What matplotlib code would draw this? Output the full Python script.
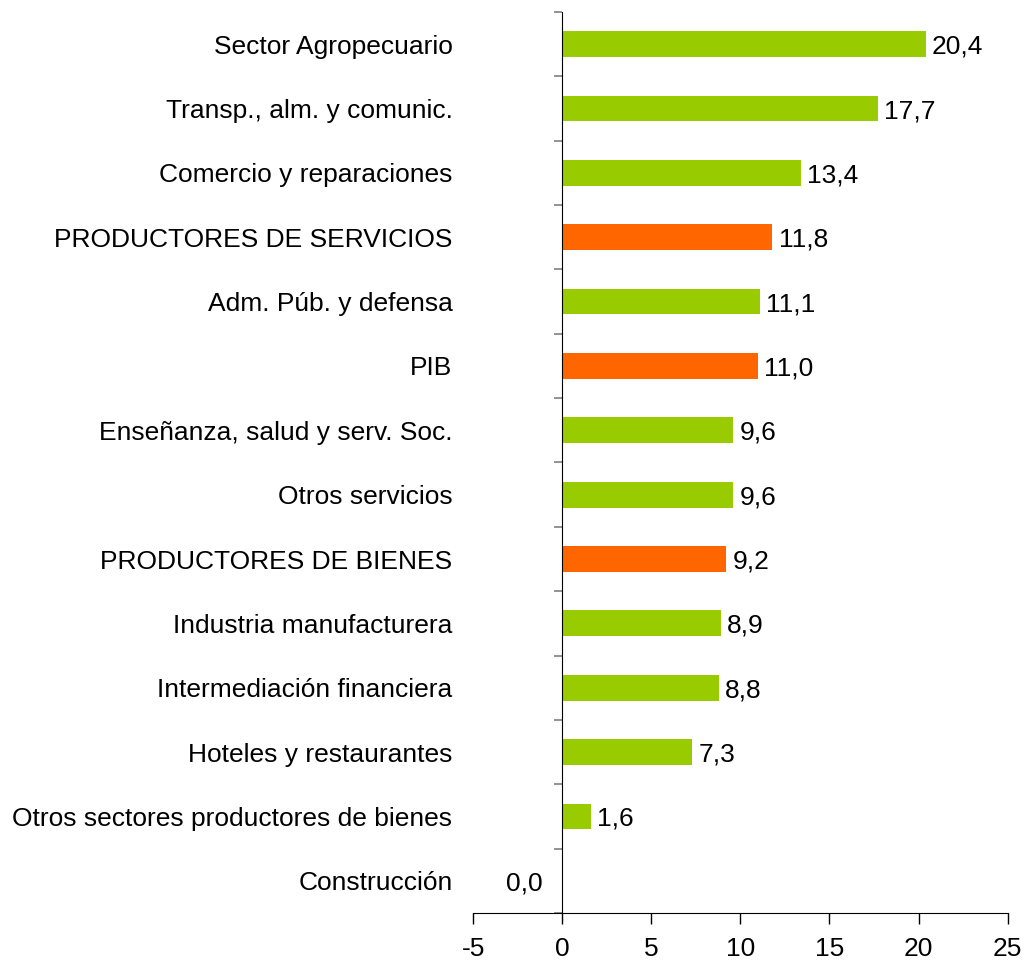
import matplotlib.pyplot as plt
import numpy as np

plt.rcParams['font.family'] = ['Liberation Sans', 'DejaVu Sans']
plt.rcParams['axes.unicode_minus'] = False

# Sectores y tasas (de arriba hacia abajo)
sectores = [
    'Sector Agropecuario',
    'Transp., alm. y comunic.',
    'Comercio y reparaciones',
    'PRODUCTORES DE SERVICIOS',
    'Adm. Púb. y defensa',
    'PIB',
    'Enseñanza, salud y serv. Soc.',
    'Otros servicios',
    'PRODUCTORES DE BIENES',
    'Industria manufacturera',
    'Intermediación financiera',
    'Hoteles y restaurantes',
    'Otros sectores productores de bienes',
    'Construcción',
]
valores = [20.4, 17.7, 13.4, 11.8, 11.1, 11.0, 9.6, 9.6, 9.2, 8.9, 8.8, 7.3, 1.6, 0.0]
agregados = ['PRODUCTORES DE SERVICIOS', 'PIB', 'PRODUCTORES DE BIENES']

verde = '#99CC00'
naranja = '#FF6600'
colores = [naranja if s in agregados else verde for s in sectores]
fs = 19

fig = plt.figure(figsize=(10.24, 9.63), dpi=100)
ax = fig.add_axes([0.462, 0.052, 0.522, 0.9355])

y = np.arange(len(sectores))
ax.barh(y, valores, height=0.4, color=colores)

for yi, v in zip(y, valores):
    txt = f'{v:.1f}'.replace('.', ',')
    if v > 0:
        ax.text(v + 0.35, yi, txt, va='center_baseline', ha='left', fontsize=fs)
    else:
        # el cero queda a la izquierda del eje
        ax.text(-1.1, yi, txt, va='center_baseline', ha='right', fontsize=fs)

ax.set_xlim(-5, 25)
ax.set_ylim(len(sectores) - 0.5, -0.5)
ax.set_xticks(np.arange(-5, 26, 5))
ax.tick_params(axis='x', labelsize=fs, length=8, width=1, direction='out', pad=9)

ax.spines['top'].set_visible(False)
ax.spines['right'].set_visible(False)
ax.spines['left'].set_position(('data', 0))

# etiquetas en el centro, marcas en los limites
ax.set_yticks(y)
ax.set_yticklabels(sectores)
ax.set_yticks(np.arange(-0.5, len(sectores), 1), minor=True)
ax.tick_params(axis='y', which='major', length=0, labelsize=fs, pad=79)
ax.tick_params(axis='y', which='minor', length=6, width=1.2, color='#808080', direction='out')

fig.savefig('out.png', dpi=100)
